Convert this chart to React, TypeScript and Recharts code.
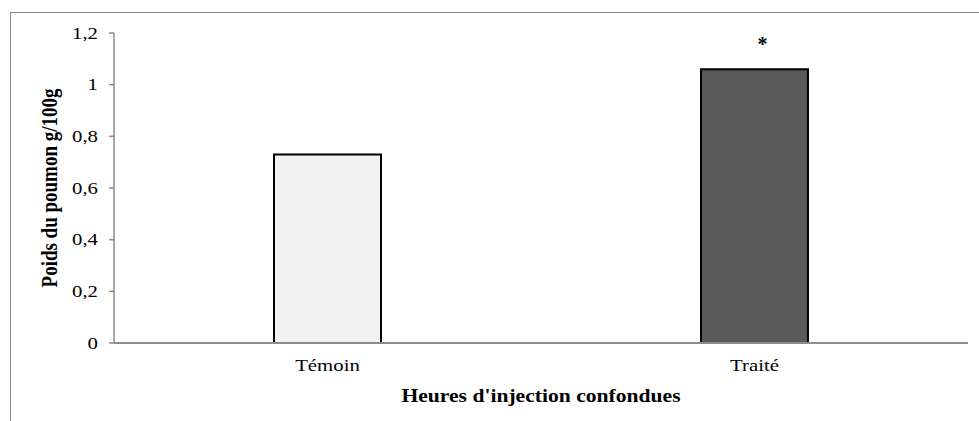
import React from "react";
import { BarChart, Bar, XAxis, YAxis, Cell, LabelList } from "recharts";

const categories = ["Témoin", "Traité"];
const values = [0.73, 1.06];
const significance = ["", "*"];
const barColors = ["#f2f2f2", "#595959"];
const yTicks = [0, 0.2, 0.4, 0.6, 0.8, 1, 1.2];

const data = categories.map((c, i) => ({ name: c, value: values[i], sig: significance[i] }));

const FONT = "'Liberation Serif', 'Times New Roman', serif";
const STRETCH = 1.3;

const fmt = (v: number) => String(v).replace(".", ",");

const XTick = (props: any) => {
  const { x, y, payload } = props;
  return (
    <g transform={`translate(${x},${y})`}>
      <text transform={`scale(${STRETCH},1)`} textAnchor="middle" dy="0.71em" fontFamily={FONT} fontSize={16} fill="#000">
        {payload.value}
      </text>
    </g>
  );
};

const YTick = (props: any) => {
  const { x, y, payload } = props;
  return (
    <g transform={`translate(${x},${y})`}>
      <text transform={`scale(${STRETCH},1)`} textAnchor="end" dy="0.355em" fontFamily={FONT} fontSize={16} fill="#000">
        {fmt(payload.value)}
      </text>
    </g>
  );
};

const YLabel = (props: any) => {
  const vb = props.viewBox || {};
  const cx = vb.x + 39;
  const cy = vb.y + vb.height / 2;
  return (
    <g transform={`translate(${cx},${cy}) scale(1.2,1) rotate(-90)`}>
      <text x={0} y={0} textAnchor="middle" dominantBaseline="central" fontFamily={FONT} fontWeight="bold" fontSize={19} fill="#000">
        Poids du poumon g/100g
      </text>
    </g>
  );
};

const XLabel = (props: any) => {
  const vb = props.viewBox || {};
  const cx = vb.x + vb.width / 2;
  const by = vb.y + vb.height - 19;
  return (
    <g transform={`translate(${cx},${by}) scale(1.2,1)`}>
      <text x={0} y={0} textAnchor="middle" fontFamily={FONT} fontWeight="bold" fontSize={18} fill="#000">
        Heures d'injection confondues
      </text>
    </g>
  );
};

export default function App() {
  return (
    <div style={{ position: "absolute", left: 0, top: 0, width: 979, height: 421, background: "#fff" }}>
      <div
        style={{
          position: "absolute",
          left: 10,
          top: 12,
          width: 969,
          height: 409,
          borderTop: "1.5px solid #8c8c8c",
          borderLeft: "1.5px solid #8c8c8c",
          boxSizing: "border-box",
        }}
      />
      <div style={{ position: "absolute", left: 0, top: 0 }}>
        <BarChart
          width={979}
          height={421}
          data={data}
          margin={{ top: 33, right: 11, bottom: 0, left: 10 }}
        >
          <XAxis
            dataKey="name"
            height={78}
            tickLine={false}
            tickSize={0}
            tickMargin={17}
            axisLine={{ stroke: "#8c8c8c", strokeWidth: 2 }}
            tick={<XTick />}
            label={{ content: XLabel }}
          />
          <YAxis
            width={104}
            domain={[0, 1.2]}
            ticks={yTicks}
            tickSize={5}
            tickMargin={11}
            axisLine={{ stroke: "#8c8c8c", strokeWidth: 1.5 }}
            tickLine={{ stroke: "#8c8c8c", strokeWidth: 1.5 }}
            tick={<YTick />}
            label={{ content: YLabel }}
          />
          <Bar dataKey="value" barSize={107} stroke="#000" strokeWidth={2} isAnimationActive={false}>
            {data.map((d, i) => (
              <Cell key={d.name} fill={barColors[i]} />
            ))}
            <LabelList
              dataKey="sig"
              position="top"
              offset={18}
              dx={8}
              style={{ fontFamily: FONT, fontWeight: "bold", fontSize: 20, fill: "#000" }}
            />
          </Bar>
        </BarChart>
      </div>
    </div>
  );
}
